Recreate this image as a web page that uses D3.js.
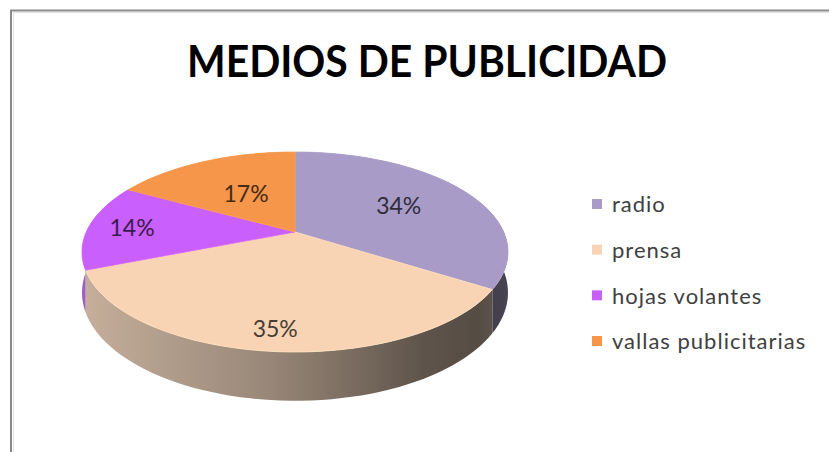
<!DOCTYPE html>
<html>
<head>
<meta charset="utf-8">
<script src="https://cdn.jsdelivr.net/npm/d3@7"></script>
<style>
  html, body { margin: 0; padding: 0; background: #ffffff; }
  svg { display: block; }
</style>
</head>
<body>
<svg id="chart" width="829" height="452"></svg>
<script>
// ---- data ----
const title = "MEDIOS DE PUBLICIDAD";
const categories = ["radio", "prensa", "hojas volantes", "vallas publicitarias"];
const values = [34, 35, 14, 17];
const valueLabels = ["34%", "35%", "14%", "17%"];
const colors = ["#a99bc7", "#f9d4b4", "#c95ffd", "#f5964a"];

// ---- layout (not data) ----
const W = 829, H = 452;
const cx = 295, cy = 252, rx = 213, ry = 100, k = -0.2, d0 = 39;
const labelRadius = [0.6, 0.84, 0.79, 0.5];

const svg = d3.select("#chart");
const defs = svg.append("defs");

// frame
svg.append("line").attr("x1", 10).attr("x2", W).attr("y1", 10.5).attr("y2", 10.5)
  .attr("stroke", "#8a8a8a").attr("stroke-width", 2);
svg.append("line").attr("x1", 11).attr("x2", 11).attr("y1", 10).attr("y2", H)
  .attr("stroke", "#8a8a8a").attr("stroke-width", 2);
svg.append("line").attr("x1", 13).attr("x2", W).attr("y1", 12.5).attr("y2", 12.5)
  .attr("stroke", "#e4e4e4").attr("stroke-width", 1);
svg.append("line").attr("x1", 13.5).attr("x2", 13.5).attr("y1", 12).attr("y2", H)
  .attr("stroke", "#e4e4e4").attr("stroke-width", 1);

// title
svg.append("text")
  .attr("x", 427).attr("y", 77)
  .attr("text-anchor", "middle")
  .attr("font-family", "Lato, 'Open Sans', sans-serif")
  .attr("font-weight", "bold")
  .attr("font-size", 44)
  .attr("textLength", 480)
  .attr("lengthAdjust", "spacingAndGlyphs")
  .attr("fill", "#000")
  .text(title);

// projection of a point on the unit disc (u right, v toward viewer)
const alpha = rx * Math.sqrt(1 - k * k);
function project(u, v) {
  const den = 1 + k * v;
  return [cx + alpha * u / den, cy + ry * (v + k) / den];
}
function depthAt(v) { return d0 / (1 + k * v); }

const pie = d3.pie().sort(null).value(d => d.value);
const arcs = pie(categories.map((c, i) => ({ cat: c, value: values[i], i })));

const line = d3.line();
const STEPS = 160;
function rimPoints(a0, a1) {
  const n = Math.max(2, Math.ceil(STEPS * (a1 - a0) / (2 * Math.PI)));
  return d3.range(n + 1).map(j => {
    const t = a0 + (a1 - a0) * j / n;
    return { u: Math.sin(t), v: -Math.cos(t) };
  });
}

// side gradients
arcs.forEach((a, i) => {
  const base = d3.color(colors[i]);
  const g = defs.append("linearGradient")
    .attr("id", "side" + i)
    .attr("gradientUnits", "userSpaceOnUse")
    .attr("x1", cx - rx).attr("x2", cx + rx).attr("y1", 0).attr("y2", 0);
  const stops = [[0, 0.55], [0.45, 1.3], [0.8, 2.6], [0.93, 2.9], [1, 2.4]];
  stops.forEach(([o, dk]) => {
    const c = d3.color(base).darker(dk);
    const hsl = d3.hsl(c); hsl.s *= 0.75;
    g.append("stop").attr("offset", o).attr("stop-color", hsl.formatHex());
  });
});

// sides
const sideG = svg.append("g");
arcs.forEach((a, i) => {
  const pts = rimPoints(a.startAngle, a.endAngle);
  const top = pts.map(p => project(p.u, p.v));
  const bottom = pts.map(p => { const q = project(p.u, p.v); return [q[0], q[1] + depthAt(p.v)]; }).reverse();
  sideG.append("path")
    .attr("d", line(top.concat(bottom)) + "Z")
    .attr("fill", `url(#side${i})`);
});

// top faces
const topG = svg.append("g");
arcs.forEach((a, i) => {
  const pts = rimPoints(a.startAngle, a.endAngle).map(p => project(p.u, p.v));
  const apex = project(0, 0);
  topG.append("path")
    .attr("d", line([apex].concat(pts)) + "Z")
    .attr("fill", colors[i])
    .attr("stroke", d3.color(colors[i]).brighter(0.15))
    .attr("stroke-width", 0.8)
    .attr("stroke-linejoin", "round");
});

// value labels
arcs.forEach((a, i) => {
  const m = (a.startAngle + a.endAngle) / 2;
  const f = labelRadius[i];
  const p = project(f * Math.sin(m), -f * Math.cos(m));
  svg.append("text")
    .attr("x", p[0]).attr("y", p[1])
    .attr("dy", "0.36em")
    .attr("text-anchor", "middle")
    .attr("font-family", "Lato, 'Open Sans', sans-serif")
    .attr("font-size", 23)
    .attr("fill", d3.color(colors[i]).darker(3.5).formatHex())
    .text(valueLabels[i]);
});

// legend
const ly = d3.scalePoint().domain(categories).range([204, 341]);
const leg = svg.append("g");
categories.forEach((c, i) => {
  leg.append("rect")
    .attr("x", 592).attr("y", ly(c) - 5)
    .attr("width", 10).attr("height", 10)
    .attr("fill", colors[i]);
  leg.append("text")
    .attr("x", 612).attr("y", ly(c))
    .attr("dy", "0.38em")
    .attr("font-family", "Lato, 'Open Sans', sans-serif")
    .attr("font-size", 22)
    .attr("letter-spacing", 1)
    .attr("fill", "#404040")
    .text(c);
});
</script>
</body>
</html>
